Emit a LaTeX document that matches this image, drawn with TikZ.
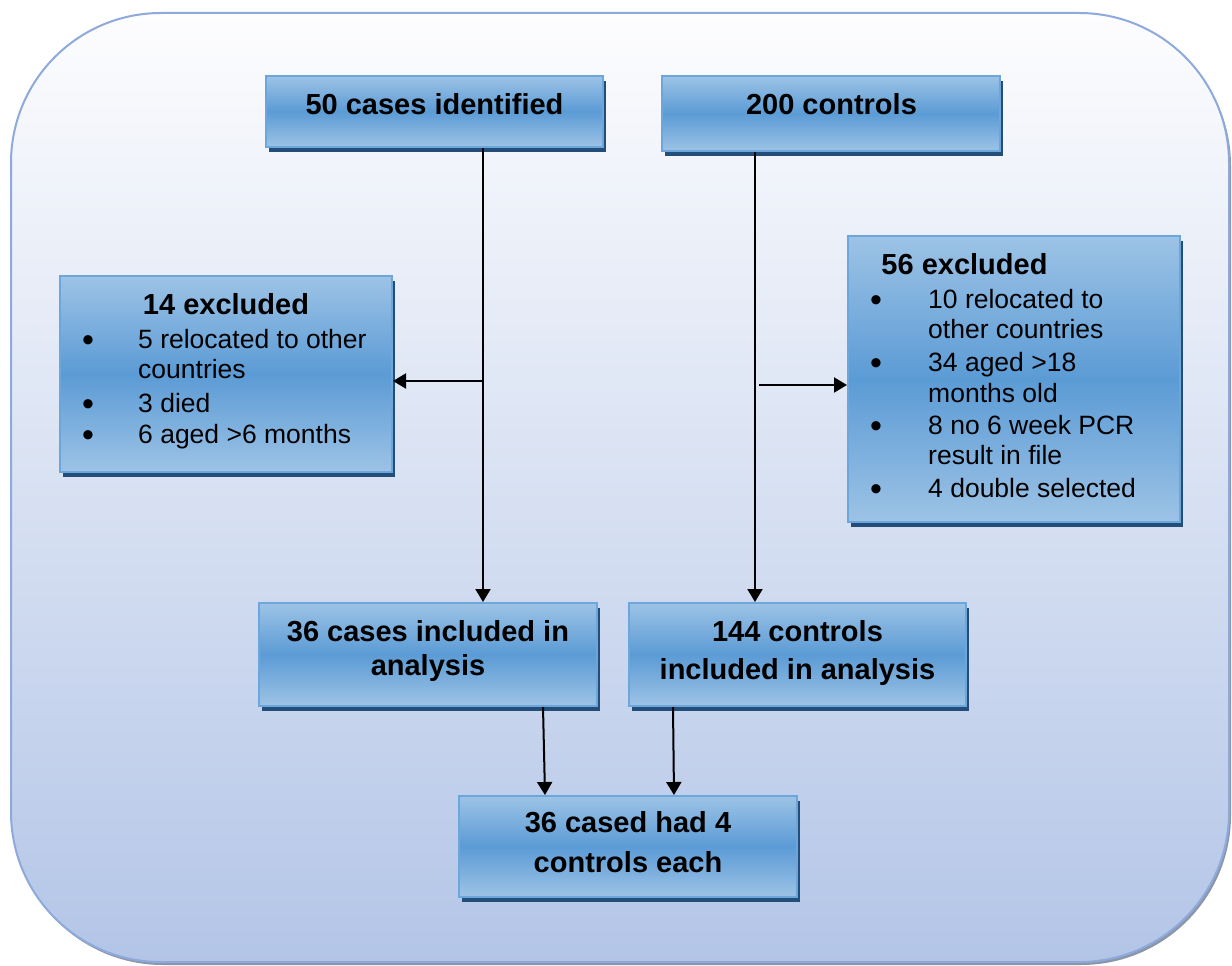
\documentclass[tikz,border=0pt]{standalone}
\usepackage{fontspec}
\setmainfont{Liberation Sans}
\usetikzlibrary{arrows.meta,shadows}
\definecolor{boxlight}{HTML}{9DC3E6}
\definecolor{boxdark}{HTML}{5B9BD5}
\definecolor{boxedge}{HTML}{6CA6DB}
\definecolor{shadowblue}{HTML}{234E7A}
\definecolor{bgtop}{HTML}{FDFDFE}
\definecolor{bgbot}{HTML}{B3C5E7}
\definecolor{bgedge}{HTML}{8EAADB}
\definecolor{bgshadow}{HTML}{8C96AA}
\tikzset{
  flowbox/.style={rectangle, draw=boxedge, line width=2pt,
    top color=boxlight, bottom color=boxlight, middle color=boxdark,
    general shadow={fill=shadowblue, shadow xshift=3pt, shadow yshift=-5pt},
    inner sep=0pt},
  tit/.style={font=\fontsize{29}{34}\selectfont\bfseries, inner sep=0pt, anchor=base},
  bodytxt/.style={font=\fontsize{26.5}{31}\selectfont, inner sep=0pt, anchor=base west},
  bul/.style={font=\fontsize{34}{36}\selectfont, inner sep=0pt, anchor=base, yshift=-3pt},
  arr/.style={line width=2pt, -{Triangle[length=13pt,width=15pt]}},
}
\begin{document}
\begin{tikzpicture}[x=1pt,y=-1pt]
\useasboundingbox (0,0) rectangle (1232,966);
\fill[white] (0,0) rectangle (1232,966);
% background panel
\fill[bgshadow, rounded corners=150pt] (13,16) rectangle (1231,965);
\shade[top color=bgtop, bottom color=bgbot, draw=bgedge, line width=2pt, rounded corners=150pt]
  (11,13) rectangle (1229,962);
% boxes
\node[flowbox, minimum width=337pt, minimum height=71pt] (b1) at (434.5,111.5) {};
\node[flowbox, minimum width=338pt, minimum height=75pt] (b2) at (831,113.5) {};
\node[flowbox, minimum width=332pt, minimum height=196pt] (b3) at (226,374) {};
\node[flowbox, minimum width=332pt, minimum height=286pt] (b4) at (1014,379) {};
\node[flowbox, minimum width=338pt, minimum height=103pt] (b5) at (428,654.5) {};
\node[flowbox, minimum width=337pt, minimum height=103pt] (b6) at (797.5,654.5) {};
\node[flowbox, minimum width=338pt, minimum height=101pt] (b7) at (628,846.5) {};
% texts
\node[tit] (t1) at (434.5,114) {50 cases identified};
\node[tit] (t2) at (831.5,114) {200 controls};
\node[tit] (t3) at (226,314) {14 excluded};
\node[bul] (u31) at (88,348) {•};
\node[bodytxt] (l31) at (138,348) {5 relocated to other};
\node[bodytxt] (l32) at (138,378) {countries};
\node[bul] (u32) at (88,412) {•};
\node[bodytxt] (l33) at (138,412) {3 died};
\node[bul] (u33) at (88,443) {•};
\node[bodytxt] (l34) at (138,443) {6 aged >6 months};
\node[tit] (t4) at (964.5,274) {56 excluded};
\node[bul] (u41) at (876,308) {•};
\node[bodytxt] (l41) at (928,308) {10 relocated to};
\node[bodytxt] (l42) at (928,338) {other countries};
\node[bul] (u42) at (876,371) {•};
\node[bodytxt] (l43) at (928,371) {34 aged >18};
\node[bodytxt] (l44) at (928,402) {months old};
\node[bul] (u43) at (876,434) {•};
\node[bodytxt] (l45) at (928,434) {8 no 6 week PCR};
\node[bodytxt] (l46) at (928,464) {result in file};
\node[bul] (u44) at (876,497) {•};
\node[bodytxt] (l47) at (928,497) {4 double selected};
\node[tit] (t51) at (428,641) {36 cases included in};
\node[tit] (t52) at (428,675) {analysis};
\node[tit] (t61) at (797.5,641) {144 controls};
\node[tit] (t62) at (797.5,679) {included in analysis};
\node[tit] (t71) at (628,832) {36 cased had 4};
\node[tit] (t72) at (628,872) {controls each};
% connectors
\coordinate (j1) at (483,381);
\coordinate (j2) at (755,385);
\coordinate (j2s) at (759,385);
\draw[line width=2pt] (b1.south -| j1) -- (j1);
\draw[arr] (j1) -- (b5.north -| j1);
\draw[arr] (j1) -- (b3.east |- j1);
\draw[line width=2pt] (b2.south -| j2) -- (j2);
\draw[arr] (j2) -- (b6.north -| j2);
\draw[arr] (j2s) -- (b4.west |- j2s);
\draw[arr] ([xshift=115pt]b5.south) -- ([xshift=-83pt]b7.north);
\draw[arr] ([xshift=-124.5pt]b6.south) -- ([xshift=46pt]b7.north);
\end{tikzpicture}
\end{document}
